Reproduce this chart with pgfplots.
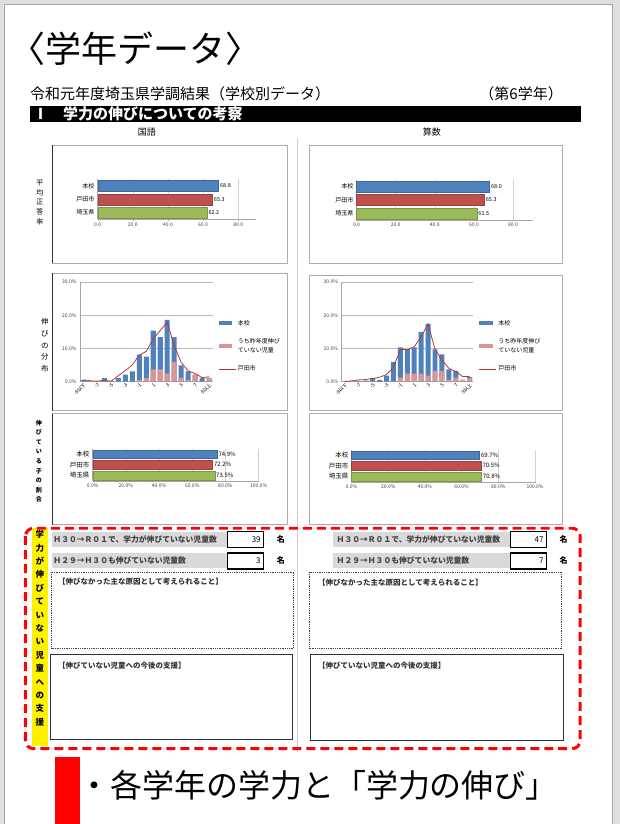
\documentclass[border=0pt]{standalone}
\usepackage{fontspec}
\setmainfont{Noto Sans CJK JP}
\usepackage{pgfplots}
\pgfplotsset{compat=1.18}
\definecolor{xblue}{HTML}{4F81BD}
\definecolor{xred}{HTML}{C0504D}
\definecolor{xgreen}{HTML}{9BBB59}
\definecolor{xpink}{HTML}{DA9694}
\definecolor{xline}{HTML}{B03A3A}
\definecolor{lab}{HTML}{D9D9D9}
\newcommand{\fs}[1]{\fontsize{#1}{#1}\selectfont}
\pgfplotsset{
  /pgf/number format/assume math mode=true,
  hbarax/.style={
    scale only axis, anchor=south west,
    ymin=-0.5, ymax=2.5, ytick={0,1,2}, yticklabels={埼玉県,戸田市,本校},
    xmin=0,
    axis x line*=bottom, axis y line*=left,
    axis line style={draw=gray!70},
    tick style={draw=gray!70}, tick align=outside, major tick length=1.5pt,
    ytick style={draw=none},
    xmajorgrids, grid style={gray!35},
    yticklabel style={font=\fs{6}, inner sep=1.5pt},
    xticklabel style={font=\fs{5}, text=black!75, inner sep=1.5pt},
    clip=false,
  },
  hb/.style={xbar, bar shift=0pt, bar width=0.82, fill=#1, draw=#1!80!black, line width=0.2pt,
    point meta=x, nodes near coords={\pgfmathprintnumber[fixed,fixed zerofill,precision=1]{\pgfplotspointmeta}},
    every node near coord/.append style={font=\fs{5.5}, anchor=west, inner sep=1.5pt, text=black}},
  hbp/.style={xbar, bar shift=0pt, bar width=0.84, fill=#1, draw=#1!80!black, line width=0.2pt,
    point meta=x, nodes near coords={\pgfmathprintnumber[fixed,fixed zerofill,precision=1]{\pgfplotspointmeta}\%},
    every node near coord/.append style={font=\fs{6}, anchor=west, inner sep=1.5pt, text=black}},
  distax/.style={
    scale only axis, anchor=south west, height=99.4pt,
    xmin=-0.5, xmax=18.5, ymin=0, ymax=30,
    ytick={0,10,20,30},
    yticklabel={\pgfmathprintnumber[fixed,fixed zerofill,precision=1]{\tick}\%},
    ymajorgrids, grid style={gray!55},
    axis x line*=bottom, axis y line*=left,
    axis line style={draw=gray!70}, tick style={draw=none},
    xtick={0,2,...,18},
    xticklabels={-9以下,-7,-5,-3,-1,1,3,5,7,9以上},
    xticklabel style={font=\fs{5}, rotate=45, anchor=north east, inner sep=0.8pt},
    yticklabel style={font=\fs{5}, text=black!75},
    legend style={at={(1.04,0.64)}, anchor=north west, draw=none, fill=none, font=\fs{6}, row sep=8pt, cells={anchor=west}, inner sep=0pt},
    clip=false,
  },
  db/.style={ybar, bar shift=0pt, bar width=0.72, fill=#1, draw=none,
    legend image code/.code={\fill[fill=#1] (0pt,-2pt) rectangle (14pt,2pt);}},
}
\begin{document}
\begin{tikzpicture}[x=1pt,y=1pt]
% page
\fill[gray!25] (0,0) rectangle (620,-824);
\fill[white] (5,-5) rectangle (613,-824);
\draw[gray!70, line width=0.8pt] (4.5,-4.5) -- (612.5,-4.5) -- (612.5,-824);
\draw[gray!70, line width=0.8pt] (4.5,-4.5) -- (4.5,-824);
% headings
\node[anchor=west, inner sep=0, font=\fs{36}] at (9,-49) {〈学年データ〉};
\node[anchor=west, inner sep=0, font=\fs{15}] at (30,-93.5) {令和元年度埼玉県学調結果（学校別データ）};
\node[anchor=west, inner sep=0, font=\fs{15}] at (479.5,-93.5) {（第6学年）};
\fill[black] (30,-106) rectangle (581,-122);
\node[anchor=west, inner sep=0, font=\fs{15}\bfseries, text=white] at (33,-114) {Ⅰ　学力の伸びについての考察};
\node[font=\fs{9}, inner sep=0] at (147,-132) {国語};
\node[font=\fs{9}, inner sep=0] at (432,-132) {算数};
% divider
\draw[gray!40, line width=1pt] (298,-138) -- (298,-752);
% chart frames
\draw[gray!65, line width=0.7pt] (52,-145) rectangle (287,-263);
\draw[gray!65, line width=0.7pt] (52,-273) rectangle (287,-411);
\draw[gray!65, line width=0.7pt] (52,-414) rectangle (287,-525);
\draw[gray!65, line width=0.7pt] (309,-145) rectangle (563,-263);
\draw[gray!65, line width=0.7pt] (309,-275) rectangle (563,-411);
\draw[gray!65, line width=0.7pt] (309,-414) rectangle (563,-525);
\draw[black!80, line width=0.7pt] (52,-145) -- (52,-263);
\draw[black!80, line width=0.7pt] (52,-273) -- (52,-411);
\draw[black!80, line width=0.7pt] (52,-414) -- (52,-525);
% row labels
\node[align=center, inner sep=0, font=\fontsize{7}{9.75}\selectfont] at (40,-202.5) {平\\均\\正\\答\\率};
\node[align=center, inner sep=0, font=\fontsize{7.5}{11.75}\selectfont] at (45,-345.5) {伸\\び\\の\\分\\布};
\node[align=center, inner sep=0, font=\fontsize{6}{9.6}\selectfont\bfseries] at (39,-461.5) {伸\\び\\て\\い\\る\\子\\の\\割\\合};

% ---- chart A: 国語 平均正答率
\begin{axis}[hbarax, at={(97.7pt,-219.3pt)}, width=158.2pt, height=40pt, xmax=90, xtick={0,20,...,80},
  xticklabel style={/pgf/number format/fixed, /pgf/number format/fixed zerofill, /pgf/number format/precision=1}]
\addplot[hb=xblue] coordinates {(68.8,2)};
\addplot[hb=xred] coordinates {(65.3,1)};
\addplot[hb=xgreen] coordinates {(62.2,0)};
\end{axis}
% ---- chart B: 算数 平均正答率
\begin{axis}[hbarax, at={(356.7pt,-220pt)}, width=176.2pt, height=40pt, xmax=90, xtick={0,20,...,80},
  xticklabel style={/pgf/number format/fixed, /pgf/number format/fixed zerofill, /pgf/number format/precision=1}]
\addplot[hb=xblue] coordinates {(68.0,2)};
\addplot[hb=xred] coordinates {(65.3,1)};
\addplot[hb=xgreen] coordinates {(61.5,0)};
\end{axis}
% ---- chart C: 国語 伸びている子の割合
\begin{axis}[hbarax, at={(92.7pt,-481pt)}, width=166pt, height=32pt, xmax=100, xtick={0,20,...,100},
  xticklabel={\pgfmathprintnumber[fixed,fixed zerofill,precision=1]{\tick}\%}, yticklabel style={font=\fs{6.5}}]
\addplot[hbp=xblue] coordinates {(74.9,2)};
\addplot[hbp=xred] coordinates {(72.2,1)};
\addplot[hbp=xgreen] coordinates {(73.5,0)};
\end{axis}
% ---- chart D: 算数 伸びている子の割合
\begin{axis}[hbarax, at={(351.7pt,-482pt)}, width=183.6pt, height=32pt, xmax=100, xtick={0,20,...,100},
  xticklabel={\pgfmathprintnumber[fixed,fixed zerofill,precision=1]{\tick}\%}, yticklabel style={font=\fs{6.5}}]
\addplot[hbp=xblue] coordinates {(69.7,2)};
\addplot[hbp=xred] coordinates {(70.5,1)};
\addplot[hbp=xgreen] coordinates {(70.8,0)};
\end{axis}
% ---- chart E: 国語 伸びの分布
\begin{axis}[distax, at={(80pt,-381.7pt)}, width=132.7pt]
\addplot[db=xblue] coordinates {(0,0.5)(1,0)(2,0)(3,1.0)(4,0)(5,1.0)(6,2.1)(7,3.1)(8,8.1)(9,7.5)(10,15.4)(11,13.4)(12,18.6)(13,13.4)(14,4.9)(15,3.1)(16,2.1)(17,1.0)(18,1.1)};
\addlegendentry{本校}
\addplot[db=xpink] coordinates {(0,0)(1,0)(2,0)(3,0)(4,0)(5,0)(6,0)(7,0)(8,0.4)(9,1.0)(10,3.7)(11,3.7)(12,2.4)(13,5.9)(14,1.1)(15,0.5)(16,1.9)(17,0)(18,1.1)};
\addlegendentry{\shortstack[l]{うち昨年度伸び\\ていない児童}}
\addplot[xline, line width=0.8pt, mark=none] coordinates {(0,0.5)(1,0.2)(2,0.1)(3,0.4)(4,0.1)(5,1.8)(6,3.3)(7,5.0)(8,8.0)(9,9.1)(10,12.9)(11,15.4)(12,17.9)(13,10.8)(14,5.8)(15,3.2)(16,2.4)(17,1.2)(18,1.4)};
\addlegendentry{戸田市}
\end{axis}
% ---- chart F: 算数 伸びの分布
\begin{axis}[distax, at={(341.7pt,-381.7pt)}, width=131.6pt]
\addplot[db=xblue] coordinates {(0,0)(1,0)(2,0.2)(3,0.3)(4,1.0)(5,0.5)(6,1.8)(7,5.9)(8,10.3)(9,9.8)(10,10.3)(11,14.9)(12,17.4)(13,9.7)(14,8.2)(15,3.7)(16,3.2)(17,0.5)(18,1.3)};
\addlegendentry{本校}
\addplot[db=xpink] coordinates {(0,0)(1,0)(2,0)(3,0)(4,0)(5,0)(6,0)(7,0)(8,1.2)(9,2.4)(10,2.4)(11,2.4)(12,1.8)(13,3.2)(14,3.2)(15,0.6)(16,1.2)(17,0.5)(18,1.0)};
\addlegendentry{\shortstack[l]{うち昨年度伸び\\ていない児童}}
\addplot[xline, line width=0.8pt, mark=none] coordinates {(0,0)(1,0.2)(2,0.5)(3,0.6)(4,0.9)(5,1.3)(6,2.1)(7,4.3)(8,9.7)(9,9.6)(10,10.5)(11,13.5)(12,17.4)(13,9.7)(14,6.5)(15,4.0)(16,3.0)(17,1.5)(18,1.5)};
\addlegendentry{戸田市}
\end{axis}

% ---- support section
\fill[yellow] (32,-528) rectangle (48,-746);
\node[align=center, inner sep=0, font=\fontsize{8.5}{13.4}\selectfont\bfseries] at (40,-628.5) {学\\力\\が\\伸\\び\\て\\い\\な\\い\\児\\童\\へ\\の\\支\\援};
% left
\fill[lab] (52,-532.7) rectangle (226.7,-547.3);
\node[anchor=west, inner sep=0, font=\fs{7.8}\bfseries, text=black!75] at (53.3,-540) {Ｈ３０→Ｒ０１で、学力が伸びていない児童数};
\draw[line width=1.2pt] (227.3,-532) rectangle (264,-548);
\node[anchor=east, inner sep=0, font=\fs{8}] at (261,-540) {39};
\node[inner sep=0, font=\fs{8}\bfseries] at (281,-539.5) {名};
\fill[lab] (52,-553) rectangle (226.7,-568);
\node[anchor=west, inner sep=0, font=\fs{7.8}\bfseries, text=black!75] at (53.3,-560.5) {Ｈ２９→Ｈ３０も伸びていない児童数};
\draw[line width=1.2pt] (227.3,-553.3) rectangle (264,-569.3);
\node[anchor=east, inner sep=0, font=\fs{8}] at (261,-561) {3};
\node[inner sep=0, font=\fs{8}\bfseries] at (281,-561) {名};
\draw[densely dotted, line width=0.8pt, black!75] (51.7,-572.3) rectangle (294,-648.3);
\node[anchor=west, inner sep=0, font=\fs{7.5}\bfseries, text=black!80] at (58,-581.5) {【伸びなかった主な原因として考えられること】};
\draw[line width=0.9pt, black!80] (50.7,-655) rectangle (292.7,-740);
\node[anchor=west, inner sep=0, font=\fs{7.5}\bfseries, text=black!80] at (58,-665.5) {【伸びていない児童への今後の支援】};
% right
\fill[lab] (333.3,-532.7) rectangle (510,-547.3);
\node[anchor=west, inner sep=0, font=\fs{7.8}\bfseries, text=black!75] at (336.7,-540) {Ｈ３０→Ｒ０１で、学力が伸びていない児童数};
\draw[line width=1.2pt] (510.7,-532) rectangle (546.7,-548);
\node[anchor=east, inner sep=0, font=\fs{8}] at (544,-540) {47};
\node[inner sep=0, font=\fs{8}\bfseries] at (564,-539.5) {名};
\fill[lab] (333.3,-553) rectangle (510,-568);
\node[anchor=west, inner sep=0, font=\fs{7.8}\bfseries, text=black!75] at (336.7,-560.5) {Ｈ２９→Ｈ３０も伸びていない児童数};
\draw[line width=1.2pt] (510.7,-553.3) rectangle (546.7,-569.3);
\node[anchor=east, inner sep=0, font=\fs{8}] at (544,-561) {7};
\node[inner sep=0, font=\fs{8}\bfseries] at (564,-561) {名};
\draw[densely dotted, line width=0.8pt, black!75] (309.3,-572.3) rectangle (561.7,-649);
\node[anchor=west, inner sep=0, font=\fs{7.5}\bfseries, text=black!80] at (318,-582.5) {【伸びなかった主な原因として考えられること】};
\draw[line width=0.9pt, black!80] (311,-655) rectangle (563.3,-740.7);
\node[anchor=west, inner sep=0, font=\fs{7.5}\bfseries, text=black!80] at (318,-665.5) {【伸びていない児童への今後の支援】};
% red dashed frame
\draw[red, line width=3pt, dash pattern=on 9pt off 5pt, rounded corners=8pt] (25.5,-528.5) rectangle (580.5,-749);
% bottom
\fill[red] (55,-757) rectangle (80,-824);
\node[anchor=west, inner sep=0, font=\fs{32}] at (78,-786) {・各学年の学力と「学力の伸び」};
\end{tikzpicture}
\end{document}
